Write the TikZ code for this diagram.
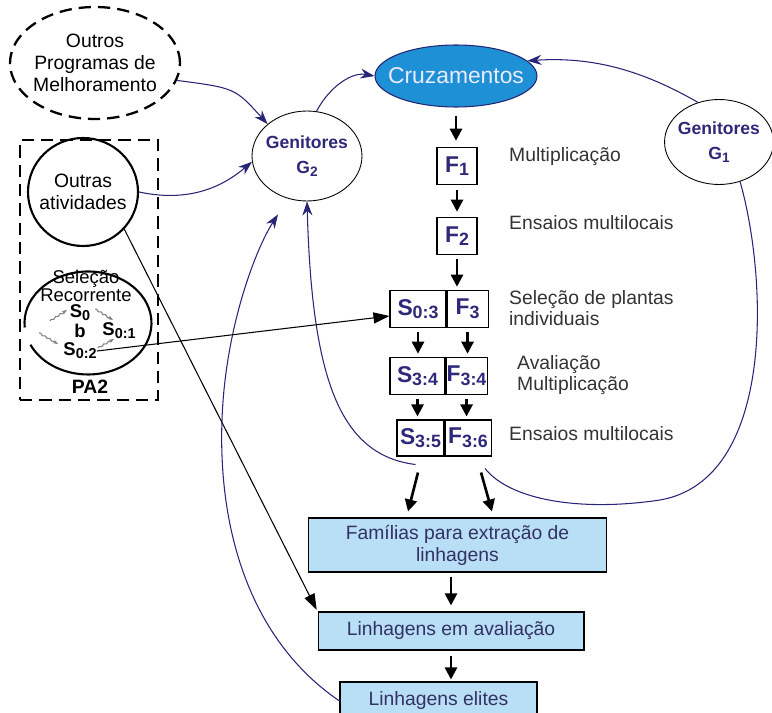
\documentclass[tikz,border=0pt]{standalone}
\usepackage{fontspec}
\usepackage{graphicx}
\setmainfont{Liberation Sans}
\usetikzlibrary{arrows.meta, calc, positioning, shapes.geometric, decorations.pathmorphing}
\definecolor{navyln}{RGB}{40,36,118}
\definecolor{navytx}{RGB}{46,40,122}
\definecolor{cruzfill}{RGB}{30,144,214}
\definecolor{boxfill}{RGB}{184,223,245}
\definecolor{boxtx}{RGB}{50,50,100}
% generation label with a lowered index
\newcommand{\gen}[2]{#1\raisebox{-0.3ex}{\scalebox{0.78}{#2}}}

\begin{document}
\begin{tikzpicture}[x=0.02cm, y=-0.02cm, font=\fontsize{11}{12.5}\selectfont,
  blk/.style={-{Triangle[length=0.24cm, width=0.24cm]}, line width=1.5pt},
  blu/.style={-{Stealth[length=0.28cm, width=0.2cm]}, navyln, line width=0.6pt},
  slim/.style={-{Triangle[length=0.32cm, width=0.22cm]}, line width=0.6pt},
  cycle/.style={->, >={Stealth[length=3pt]}, gray, line width=0.6pt,
    decorate, decoration={snake, amplitude=0.4pt, segment length=3pt, post length=2pt}},
  stage/.style={draw, line width=0.6pt, inner sep=0pt, minimum height=0.75cm,
    text=navytx, font=\fontsize{13}{14}\selectfont\bfseries},
  result/.style={draw, line width=0.6pt, fill=boxfill, inner sep=0pt, align=center, text=boxtx},
  note/.style={anchor=west, align=left, text=black!80, font=\fontsize{11}{12}\selectfont},
  genitor/.style={draw, ellipse, line width=0.5pt, inner xsep=-0.05cm, inner ysep=0pt, align=center,
    text=navytx, font=\fontsize{10}{14}\selectfont\bfseries},
  cyc/.style={font=\fontsize{10.5}{12}\selectfont\bfseries, inner sep=0pt}]
  \useasboundingbox (0,0) rectangle (772,713);

  % outside sources
  \node[draw, ellipse, dashed, line width=1.3pt, dash pattern=on 7pt off 4pt,
    inner xsep=-0.06cm, inner ysep=0pt, minimum width=3.4cm, minimum height=2.24cm, align=center,
    font=\fontsize{11}{12.5}\selectfont] (outros) at (95,63) {Outros\\Programas de\\Melhoramento};
  \node[draw, dashed, line width=1.3pt, dash pattern=on 7pt off 4pt,
    minimum width=2.76cm, minimum height=5.2cm] (pa2) at (89,270) {};
  \node[font=\fontsize{11}{12}\selectfont\bfseries] (pa2lab) at (90,387) {PA2};
  \node[draw, ellipse, line width=1.2pt, inner xsep=-0.1cm, inner ysep=0pt,
    minimum width=2.2cm, minimum height=2.16cm, align=center] (outras) at (83,192) {Outras\\atividades};

  % recurrent selection cycle
  \node[ellipse, minimum width=2.54cm, minimum height=2.06cm] (selec) at (88,323) {};
  \draw[line width=1.2pt] ([shift={(185:1.27cm and 1.03cm)}]selec.center)
    arc[start angle=185, end angle=-155, x radius=1.27cm, y radius=1.03cm];
  \node[align=center, inner sep=0pt, font=\fontsize{10.5}{10}\selectfont] (seltxt) at (86,286) {Seleção\\Recorrente};
  \node[cyc] (s0) at (80,313) {\gen{S}{0}};
  \node[cyc] (sb) at (80,331) {b};
  \node[cyc] (s01) at (119,331) {\gen{S}{0:1}};
  \node[cyc] (s02) at (80,351) {\gen{S}{0:2}};
  \draw[cycle] (50,321) -- (67,310);
  \draw[cycle] (95,309) -- (113,320);
  \draw[cycle] (39,333) -- (58,344);
  \draw[cycle] (98,348) -- (114,339);

  % parents and crosses
  \node[genitor, minimum width=2.2cm, minimum height=1.8cm] (g2) at (307,156) {Genitores\\\gen{G}{2}};
  \node[genitor, minimum width=2.1cm, minimum height=1.7cm] (g1) at (719,142) {Genitores\\\gen{G}{1}};
  \node[draw=navyln, ellipse, fill=cruzfill, line width=0.6pt, minimum width=3.24cm,
    minimum height=1.24cm, inner xsep=-0.33cm, inner ysep=0pt, text=blue!8,
    font=\fontsize{13}{14}\selectfont] (cruz) at (456,76) {Cruzamentos};

  % generations
  \node[stage, minimum width=0.8cm] (f1) at (457,166) {\gen{F}{1}};
  \node[stage, minimum width=0.8cm] (f2) at (457,236) {\gen{F}{2}};
  \node[stage, minimum width=1.12cm] (s03) at (418,309) {\gen{S}{0:3}};
  \node[stage, minimum width=0.82cm, right=0pt of s03] (f3) {\gen{F}{3}};
  \node[stage, minimum width=1.1cm] (s34) at (417.5,376) {\gen{S}{3:4}};
  \node[stage, minimum width=0.82cm, right=0pt of s34] (f34) {\gen{F}{3:4}};
  \node[stage, minimum width=0.94cm, minimum height=0.72cm] (s35) at (420.5,438) {\gen{S}{3:5}};
  \node[stage, minimum width=0.92cm, minimum height=0.72cm, right=0pt of s35] (f36) {\gen{F}{3:6}};

  \node[note] (n1) at (503,157) {Multiplicação};
  \node[note] (n2) at (503,223) {Ensaios multilocais};
  \node[note] (n3) at (503,308) {Seleção de plantas\\individuais};
  \node[note] (n4) at (511,375) {Avaliação\\Multiplicação};
  \node[note] (n5) at (503,434) {Ensaios multilocais};

  % lines
  \node[result, minimum width=5.98cm, minimum height=1.08cm] (fam) at (457.5,545)
    {Famílias para extração de\\linhagens};
  \node[result, minimum width=5.32cm, minimum height=0.76cm] (aval) at (451,631) {Linhagens em avaliação};
  \node[result, minimum width=3.94cm, minimum height=0.76cm] (elite) at (438.5,701) {Linhagens elites};

  % main flow
  \draw[blk, shorten <=0.16cm, shorten >=0.12cm] (cruz.south) -- (cruz.south |- f1.north);
  \draw[blk, shorten <=0.1cm, shorten >=0.1cm] (f1) -- (f2);
  \draw[blk, shorten <=0.08cm, shorten >=0.06cm] (f2.south) -- (f2.south |- f3.north);
  \draw[blk, shorten <=0.08cm, shorten >=0.06cm] (s03) -- (s03.south |- s34.north);
  \draw[blk, shorten <=0.08cm, shorten >=0.06cm] (f3) -- (f3.south |- f34.north);
  \draw[blk, shorten <=0.08cm, shorten >=0.06cm] (s34) -- (s34.south |- s35.north);
  \draw[blk, shorten <=0.08cm, shorten >=0.06cm] (f34) -- (f34.south |- f36.north);
  \draw[blk] ([xshift=-0.05cm, yshift=-0.32cm]s35.south) -- ([xshift=-0.99cm, yshift=0.12cm]fam.north);
  \draw[blk] ([xshift=0.26cm, yshift=-0.32cm]f36.south) -- ([xshift=0.69cm, yshift=0.12cm]fam.north);
  \draw[blk, shorten <=0.08cm, shorten >=0.12cm] (aval.north |- fam.south) -- (aval.north);
  \draw[blk, shorten <=0.1cm, shorten >=0.04cm] (aval.south) -- (aval.south |- elite.north);

  % feedback to the parents
  \draw[blu] (outros.-12) .. controls (235,88) .. (g2.141);
  \draw[blu] (outras.east) .. controls (195,204) and (228,182) .. (g2.186);
  \draw[blu] (g2.78) .. controls (330,86) and (352,72) .. (cruz.west);
  \draw[blu] (g1.118) .. controls (650,75) and (600,56) .. (cruz.12);
  \coordinate (loopR) at ([shift={(0.34cm,-0.24cm)}]f36.south);
  \draw[navyln, line width=0.6pt] (g1.-62) .. controls (768,280) and (775,480) .. (660,500)
    .. controls (580,512) and (510,500) .. (loopR);
  \coordinate (loopL) at ([shift={(-0.1cm,-0.16cm)}]s35.south);
  \draw[blu] (loopL) .. controls (340,455) and (312,380) .. (g2.south);
  \draw[blu] (elite.west) .. controls (250,640) and (218,530) .. (222,420)
    .. controls (225,330) and (255,250) .. ([xshift=-0.58cm, yshift=-0.26cm]g2.south);

  % links from PA2
  \draw[slim, shorten >=1pt] (outras.-42) -- (aval.north west);
  \draw[slim] (s02.east) -- ([yshift=-0.14cm]s03.west);
\end{tikzpicture}
\end{document}
